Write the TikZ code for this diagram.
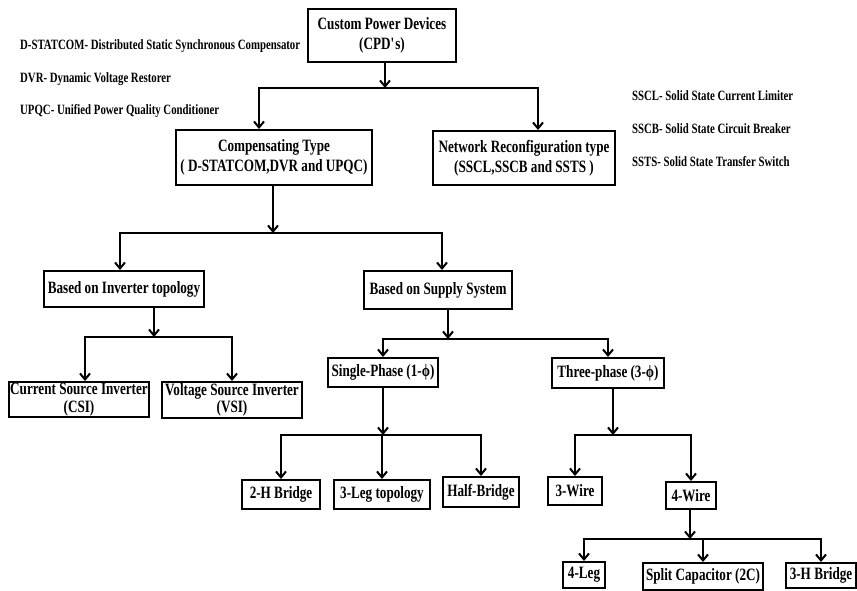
\documentclass[tikz,border=0pt]{standalone}
\usepackage{fontspec}
\setmainfont{Liberation Serif}[FakeStretch=0.76]
\usepackage{tikz}
\usetikzlibrary{arrows.meta}

\tikzset{
    box/.style={draw, line width=2pt, inner sep=0pt, align=center, font=\fontsize{17.3}{20}\selectfont\bfseries},
    tightbox/.style={box, font=\fontsize{17.3}{17.5}\selectfont\bfseries},
    abbr/.style={anchor=west, inner sep=0pt, font=\fontsize{14.2}{16}\selectfont\bfseries},
    arr/.style={line width=2pt, -{Straight Barb[length=6pt,width=10pt]}}
}

\begin{document}
\begin{tikzpicture}[x=1pt, y=-1pt]
        \useasboundingbox (0, 0) rectangle (857, 590);

        \node[box, minimum width=148pt, minimum height=53pt] (cpd) at (382, 35.5) {Custom Power Devices\\(CPD\textquotesingle s)};
        \node[box, minimum width=196pt, minimum height=55pt] (comp) at (274, 157.5) {Compensating Type\\( D-STATCOM,DVR and UPQC)};
        \node[box, minimum width=182pt, minimum height=54pt] (net) at (524, 158) {Network Reconfiguration type\\(SSCL,SSCB and SSTS )};
        \node[box, minimum width=160pt, minimum height=36pt] (inv) at (124, 289) {Based on Inverter topology};
        \node[box, minimum width=148pt, minimum height=38pt] (sup) at (438, 290) {Based on Supply System};
        \node[tightbox, minimum width=140pt, minimum height=35pt] (csi) at (79, 399.5) {Current Source Inverter\\(CSI)};
        \node[tightbox, minimum width=140pt, minimum height=36pt] (vsi) at (232, 400) {Voltage Source Inverter\\(VSI)};
        \node[box, minimum width=110pt, minimum height=29pt] (single) at (383, 372.5) {Single-Phase (1-ϕ)};
        \node[box, minimum width=112pt, minimum height=30pt] (three) at (608, 373) {Three-phase (3-ϕ)};
        \node[box, minimum width=78pt, minimum height=29pt] (hb2) at (281, 494.5) {2-H Bridge};
        \node[box, minimum width=96pt, minimum height=29pt] (leg3) at (382, 494.5) {3-Leg topology};
        \node[box, minimum width=76pt, minimum height=30pt] (half) at (481, 492) {Half-Bridge};
        \node[box, minimum width=54pt, minimum height=28pt] (wire3) at (575, 491) {3-Wire};
        \node[box, minimum width=50pt, minimum height=27pt] (wire4) at (691, 495.5) {4-Wire};
        \node[box, minimum width=42pt, minimum height=26pt] (leg4) at (584, 575) {4-Leg};
        \node[box, minimum width=120pt, minimum height=27pt] (split) at (703, 576.5) {Split Capacitor (2C)};
        \node[box, minimum width=70pt, minimum height=25pt] (hb3) at (821, 575.5) {3-H Bridge};

        \node[abbr] (dstat) at (20, 46) {D-STATCOM- Distributed Static Synchronous Compensator};
        \node[abbr] (dvr) at (20, 79) {DVR- Dynamic Voltage Restorer};
        \node[abbr] (upqc) at (20, 111) {UPQC- Unified Power Quality Conditioner};
        \node[abbr] (sscl) at (632, 96) {SSCL- Solid State Current Limiter};
        \node[abbr] (sscb) at (632, 129) {SSCB- Solid State Circuit Breaker};
        \node[abbr] (ssts) at (632, 162) {SSTS- Solid State Transfer Switch};

        \coordinate (j1) at (385, 88);
        \coordinate (j2) at (273, 233);
        \coordinate (j3) at (154, 337);
        \coordinate (j4) at (448, 339);
        \coordinate (j5) at (383, 435);
        \coordinate (j6) at (613, 435);
        \coordinate (j7) at (690, 539);

        \draw[arr] (cpd.south -| j1) -- (j1);
        \draw[arr] (j1) -| ([xshift=-15pt]comp.north);
        \draw[arr] (j1) -| ([xshift=14pt]net.north);
        \draw[arr] (comp.south -| j2) -- (j2);
        \draw[arr] (j2) -| ([xshift=-4pt]inv.north);
        \draw[arr] (j2) -| ([xshift=4pt]sup.north);
        \draw[arr] (inv.south -| j3) -- (j3);
        \draw[arr] (j3) -| ([xshift=6pt]csi.north);
        \draw[arr] (j3) -| (vsi);
        \draw[arr] (sup.south -| j4) -- (j4);
        \draw[arr] (j4) -| (single);
        \draw[arr] (j4) -| (three);
        \draw[arr] (single.south -| j5) -- (j5);
        \draw[arr] (j5) -| (hb2);
        \draw[arr] (j5) -| (leg3);
        \draw[arr] (j5) -| (half);
        \draw[arr] (three.south -| j6) -- (j6);
        \draw[arr] (j6) -| (wire3);
        \draw[arr] (j6) -| (wire4);
        \draw[arr] (wire4.south -| j7) -- (j7);
        \draw[arr] (j7) -| (leg4);
        \draw[arr] (j7) -| (split);
        \draw[arr] (j7) -| (hb3);
\end{tikzpicture}
\end{document}
